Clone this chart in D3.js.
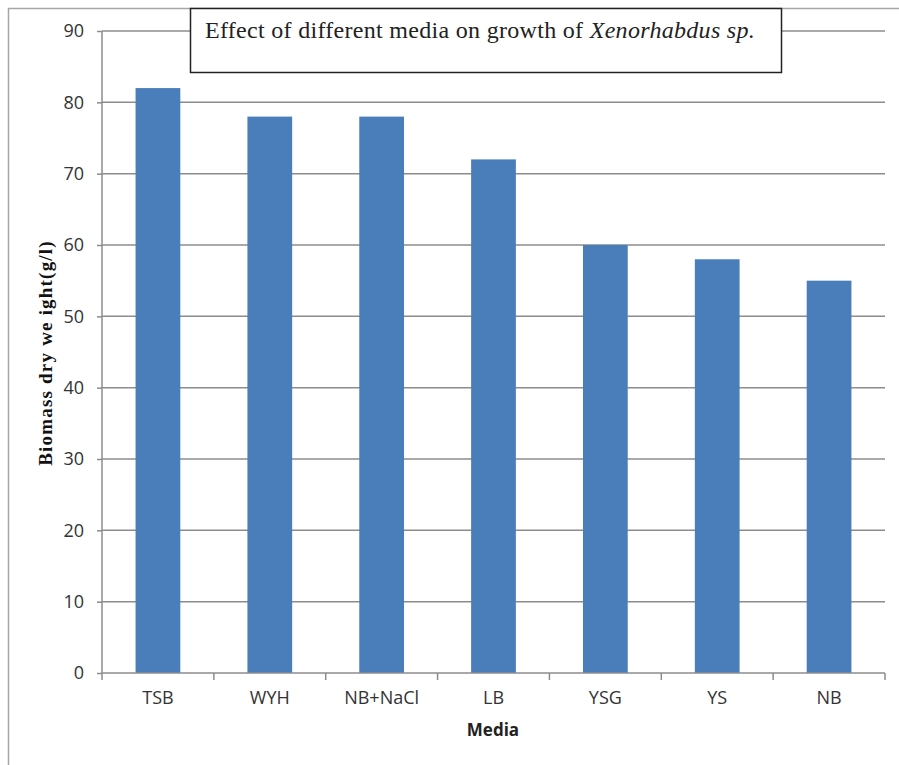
<!DOCTYPE html>
<html><head><meta charset="utf-8">
<script src="https://cdn.jsdelivr.net/npm/d3@7"></script>
<style>html,body{margin:0;padding:0;background:#fff;}</style>
</head><body>
<svg id="c" width="899" height="765"></svg>
<script>
const categories = ["TSB","WYH","NB+NaCl","LB","YSG","YS","NB"];
const values = [82,78,78,72,60,58,55];
const yTicks = [0,10,20,30,40,50,60,70,80,90];
const titleMain = "Effect of different media on growth of ";
const titleItalic = "Xenorhabdus sp.";
const xTitle = "Media";
const yTitle = "Biomass dry we ight(g/l)";

const svg = d3.select("#c");
const L = 102, R = 885, T = 31, B = 673;
const x = d3.scaleBand().domain(categories).range([L, R]).paddingInner(0.6).paddingOuter(0.3);
const xb = d3.scaleBand().domain(categories).range([L, R]);
const y = d3.scaleLinear().domain([0, 90]).range([B, T]);

// outer frame
svg.append("path").attr("d", `M8.5,765 V8.5 H899`).attr("fill","none").attr("stroke","#a6a6a6").attr("stroke-width",1.5);

// gridlines
svg.append("g").selectAll("line").data(yTicks.filter(d=>d>0)).join("line")
  .attr("x1", L).attr("x2", R).attr("y1", d=>y(d)).attr("y2", d=>y(d))
  .attr("stroke","#8c8c8c").attr("stroke-width",1.5);

// bars
svg.append("g").selectAll("rect").data(values).join("rect")
  .attr("x",(d,i)=>x(categories[i])).attr("width",x.bandwidth())
  .attr("y",d=>y(d)).attr("height",d=>B-y(d)).attr("fill","#4a7ebb");

// y axis
const ya = svg.append("g").attr("transform",`translate(${L},0)`)
  .call(d3.axisLeft(y).tickValues(yTicks).tickSize(5).tickPadding(13));
ya.selectAll("path,line").attr("stroke","#8c8c8c").attr("stroke-width",1.5);
ya.select("path").attr("d",`M0,${B}V${T}`);
ya.selectAll("text").attr("font-family","'Open Sans',sans-serif").attr("font-size",18).attr("fill","#333");

// x axis
const xa = svg.append("g").attr("transform",`translate(0,${B})`)
  .call(d3.axisBottom(xb).tickSize(0).tickPadding(18));
xa.select("path").attr("d",`M${L},0H${R}`).attr("stroke","#8c8c8c").attr("stroke-width",1.5);
xa.selectAll("text").attr("font-family","'Open Sans',sans-serif").attr("font-size",18).attr("fill","#333");
const bounds = categories.map(c=>xb(c)).concat([R]);
xa.append("g").selectAll("line").data(bounds).join("line")
  .attr("x1",d=>d).attr("x2",d=>d).attr("y1",0).attr("y2",7)
  .attr("stroke","#8c8c8c").attr("stroke-width",1.5);

// axis titles
svg.append("text").attr("x",493).attr("y",736).attr("text-anchor","middle")
  .attr("font-family","'Open Sans',sans-serif").attr("font-weight","bold").attr("font-size",17).attr("fill","#222").text(xTitle);
svg.append("text").attr("transform","translate(52,353) rotate(-90)").attr("text-anchor","middle")
  .attr("font-family","'Liberation Serif','Times New Roman',serif").attr("font-weight","bold").attr("font-size",19)
  .attr("letter-spacing",1.2).attr("fill","#111").text(yTitle);

// title box
svg.append("rect").attr("x",190.5).attr("y",8.5).attr("width",591).attr("height",64)
  .attr("fill","#fff").attr("stroke","#222").attr("stroke-width",1.5);
const t = svg.append("text").attr("x",205).attr("y",38)
  .attr("font-family","'Liberation Serif','Times New Roman',serif").attr("font-size",24)
  .attr("letter-spacing",0.3).attr("fill","#222");
t.append("tspan").text(titleMain);
t.append("tspan").attr("font-style","italic").text(titleItalic);
</script>
</body></html>
